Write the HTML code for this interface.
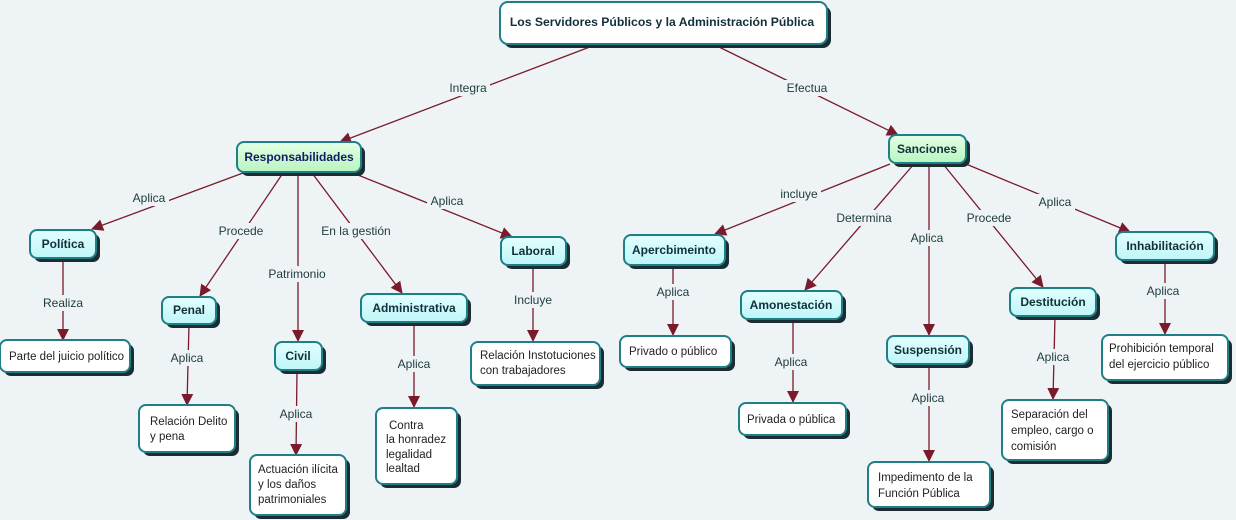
<!DOCTYPE html>
<html><head><meta charset="utf-8"><style>
html,body{margin:0;padding:0;background:#eef4f6;}
svg{display:block}
text{font-family:"Liberation Sans",sans-serif;}
.lbl{font-size:12px;fill:#1e3a3c;text-anchor:middle}
.nb{font-size:12px;font-weight:bold;fill:#12303a;text-anchor:middle}
.lf{font-size:11.5px;fill:#222}
</style></head><body>
<svg width="1236" height="520" viewBox="0 0 1236 520" xmlns="http://www.w3.org/2000/svg">
<defs>
<marker id="a" markerWidth="12" markerHeight="12" refX="11" refY="6" orient="auto" markerUnits="userSpaceOnUse" viewBox="0 0 12 12"><path d="M0,0 L12,6 L0,12 z" fill="#7a1a2a"/></marker>
<linearGradient id="g" x1="0" y1="0" x2="0" y2="1"><stop offset="0" stop-color="#e4ffe4"/><stop offset="1" stop-color="#b8f5c0"/></linearGradient>
<linearGradient id="c" x1="0" y1="0" x2="0" y2="1"><stop offset="0" stop-color="#e2ffff"/><stop offset="1" stop-color="#bff5f8"/></linearGradient>
</defs>
<rect width="1236" height="520" fill="#eef4f6"/>
<g stroke="#7a1a2a" stroke-width="1.3" fill="none">
<path d="M595,45 L340,142" marker-end="url(#a)"/>
<path d="M715,45 L898,135" marker-end="url(#a)"/>
<path d="M243,173 L92,229" marker-end="url(#a)"/>
<path d="M283,173 L200,296" marker-end="url(#a)"/>
<path d="M298,173 L298,341" marker-end="url(#a)"/>
<path d="M312,173 L402,293" marker-end="url(#a)"/>
<path d="M358,175 L512,237" marker-end="url(#a)"/>
<path d="M63,258 L63,340" marker-end="url(#a)"/>
<path d="M189,324 L187,405" marker-end="url(#a)"/>
<path d="M297,370 L296,455" marker-end="url(#a)"/>
<path d="M414,322 L414,407" marker-end="url(#a)"/>
<path d="M533,265 L533,341" marker-end="url(#a)"/>
<path d="M890,164 L715,234" marker-end="url(#a)"/>
<path d="M914,164 L805,290" marker-end="url(#a)"/>
<path d="M929,164 L929,335" marker-end="url(#a)"/>
<path d="M943,164 L1043,287" marker-end="url(#a)"/>
<path d="M966,164 L1130,232" marker-end="url(#a)"/>
<path d="M673,265 L673,335" marker-end="url(#a)"/>
<path d="M793,319 L793,402" marker-end="url(#a)"/>
<path d="M929,364 L929,461" marker-end="url(#a)"/>
<path d="M1055,316 L1053,399" marker-end="url(#a)"/>
<path d="M1165,260 L1165,334" marker-end="url(#a)"/>
</g>
<g>
<g fill="#eef4f6">
<rect x="446" y="80" width="44" height="16"/><rect x="784" y="80" width="46" height="16"/>
<rect x="129" y="190" width="40" height="16"/><rect x="216" y="223" width="50" height="16"/>
<rect x="266" y="266" width="62" height="16"/><rect x="319" y="223" width="74" height="16"/>
<rect x="427" y="193" width="40" height="16"/><rect x="40" y="295" width="46" height="16"/>
<rect x="167" y="350" width="40" height="16"/><rect x="276" y="406" width="40" height="16"/>
<rect x="394" y="356" width="40" height="16"/><rect x="510" y="292" width="46" height="16"/>
<rect x="777" y="186" width="44" height="16"/><rect x="834" y="210" width="60" height="16"/>
<rect x="907" y="230" width="40" height="16"/><rect x="963" y="210" width="52" height="16"/>
<rect x="1035" y="194" width="40" height="16"/><rect x="653" y="284" width="40" height="16"/>
<rect x="771" y="354" width="40" height="16"/><rect x="908" y="390" width="40" height="16"/>
<rect x="1033" y="349" width="40" height="16"/><rect x="1143" y="283" width="40" height="16"/>
</g>
<text class="lbl" x="468" y="92">Integra</text>
<text class="lbl" x="807" y="92">Efectua</text>
<text class="lbl" x="149" y="202">Aplica</text>
<text class="lbl" x="241" y="235">Procede</text>
<text class="lbl" x="297" y="278">Patrimonio</text>
<text class="lbl" x="356" y="235">En la gestión</text>
<text class="lbl" x="447" y="205">Aplica</text>
<text class="lbl" x="63" y="307">Realiza</text>
<text class="lbl" x="187" y="362">Aplica</text>
<text class="lbl" x="296" y="418">Aplica</text>
<text class="lbl" x="414" y="368">Aplica</text>
<text class="lbl" x="533" y="304">Incluye</text>
<text class="lbl" x="799" y="198">incluye</text>
<text class="lbl" x="864" y="222">Determina</text>
<text class="lbl" x="927" y="242">Aplica</text>
<text class="lbl" x="989" y="222">Procede</text>
<text class="lbl" x="1055" y="206">Aplica</text>
<text class="lbl" x="673" y="296">Aplica</text>
<text class="lbl" x="791" y="366">Aplica</text>
<text class="lbl" x="928" y="402">Aplica</text>
<text class="lbl" x="1053" y="361">Aplica</text>
<text class="lbl" x="1163" y="295">Aplica</text>
</g>
<g stroke="#1f7f86" stroke-width="2">
<g fill="#1a2d33" stroke="none">
<rect x="504" y="6" width="327" height="42" rx="8"/>
<rect x="241" y="146" width="124" height="30" rx="7"/>
<rect x="893" y="139" width="77" height="28" rx="7"/>
<rect x="34" y="234" width="66" height="28" rx="7"/>
<rect x="166" y="301" width="54" height="27" rx="7"/>
<rect x="279" y="346" width="47" height="28" rx="7"/>
<rect x="365" y="298" width="106" height="28" rx="7"/>
<rect x="505" y="241" width="65" height="28" rx="7"/>
<rect x="628" y="239" width="101" height="30" rx="7"/>
<rect x="745" y="295" width="101" height="28" rx="7"/>
<rect x="891" y="340" width="82" height="28" rx="7"/>
<rect x="1014" y="292" width="86" height="28" rx="7"/>
<rect x="1120" y="236" width="98" height="28" rx="7"/>
<rect x="4" y="344" width="130" height="32" rx="7"/>
<rect x="143" y="409" width="96" height="47" rx="7"/>
<rect x="254" y="459" width="96" height="60" rx="7"/>
<rect x="380" y="412" width="81" height="76" rx="7"/>
<rect x="475" y="346" width="129" height="43" rx="7"/>
<rect x="624" y="340" width="111" height="31" rx="7"/>
<rect x="743" y="407" width="107" height="32" rx="7"/>
<rect x="872" y="466" width="122" height="45" rx="7"/>
<rect x="1006" y="404" width="106" height="60" rx="7"/>
<rect x="1106" y="339" width="126" height="45" rx="7"/>
</g>
<rect x="500" y="2" width="327" height="42" rx="8" fill="#fff"/>
<rect x="237" y="142" width="124" height="30" rx="7" fill="url(#g)"/>
<rect x="889" y="135" width="77" height="28" rx="7" fill="url(#g)"/>
<g fill="url(#c)">
<rect x="30" y="230" width="66" height="28" rx="7"/>
<rect x="162" y="297" width="54" height="27" rx="7"/>
<rect x="275" y="342" width="47" height="28" rx="7"/>
<rect x="361" y="294" width="106" height="28" rx="7"/>
<rect x="501" y="237" width="65" height="28" rx="7"/>
<rect x="624" y="235" width="101" height="30" rx="7"/>
<rect x="741" y="291" width="101" height="28" rx="7"/>
<rect x="887" y="336" width="82" height="28" rx="7"/>
<rect x="1010" y="288" width="86" height="28" rx="7"/>
<rect x="1116" y="232" width="98" height="28" rx="7"/>
</g>
<g fill="#fff">
<rect x="0" y="340" width="130" height="32" rx="7"/>
<rect x="139" y="405" width="96" height="47" rx="7"/>
<rect x="250" y="455" width="96" height="60" rx="7"/>
<rect x="376" y="408" width="81" height="76" rx="7"/>
<rect x="471" y="342" width="129" height="43" rx="7"/>
<rect x="620" y="336" width="111" height="31" rx="7"/>
<rect x="739" y="403" width="107" height="32" rx="7"/>
<rect x="868" y="462" width="122" height="45" rx="7"/>
<rect x="1002" y="400" width="106" height="60" rx="7"/>
<rect x="1102" y="335" width="126" height="45" rx="7"/>
</g>
</g>
<text class="nb" x="662" y="26" style="font-size:12.2px">Los Servidores Públicos y la Administración Pública</text>
<text class="nb" x="299" y="161" style="fill:#141a66">Responsabilidades</text>
<text class="nb" x="927" y="153">Sanciones</text>
<text class="nb" x="63" y="248">Política</text>
<text class="nb" x="189" y="314">Penal</text>
<text class="nb" x="298" y="360">Civil</text>
<text class="nb" x="414" y="312">Administrativa</text>
<text class="nb" x="533" y="255">Laboral</text>
<text class="nb" x="674" y="254">Apercbimeinto</text>
<text class="nb" x="791" y="309">Amonestación</text>
<text class="nb" x="928" y="354">Suspensión</text>
<text class="nb" x="1053" y="306">Destitución</text>
<text class="nb" x="1165" y="250">Inhabilitación</text>
<g class="lf">
<text x="9" y="360">Parte del juicio político</text>
<text x="150" y="425">Relación Delito</text><text x="150" y="440">y pena</text>
<text x="258" y="473">Actuación ilícita</text><text x="258" y="488">y los daños</text><text x="258" y="503">patrimoniales</text>
<text x="389" y="429">Contra</text><text x="386" y="443">la honradez</text><text x="386" y="458">legalidad</text><text x="386" y="472">lealtad</text>
<text x="480" y="359">Relación Instotuciones</text><text x="480" y="374">con trabajadores</text>
<text x="629" y="355">Privado o público</text>
<text x="747" y="423">Privada o pública</text>
<text x="878" y="481">Impedimento de la</text><text x="878" y="497">Función Pública</text>
<text x="1011" y="418">Separación del</text><text x="1011" y="434">empleo, cargo o</text><text x="1011" y="450">comisión</text>
<text x="1109" y="352">Prohibición temporal</text><text x="1109" y="368">del ejercicio público</text>
</g>
</svg>
</body></html>
